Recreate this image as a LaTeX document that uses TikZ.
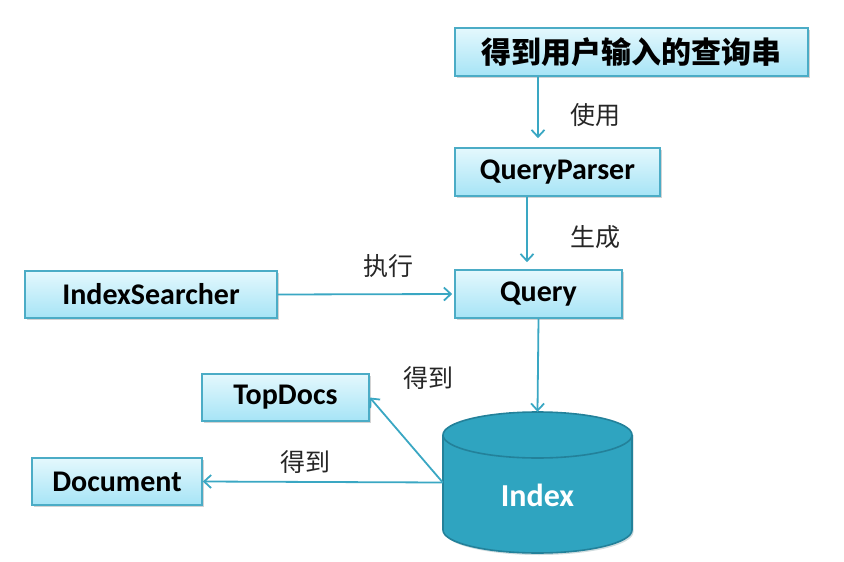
\documentclass[tikz,border=0pt]{standalone}
\usepackage{fontspec}
\setmainfont{Carlito}
\newfontfamily\cjk{Noto Sans CJK SC}
\usetikzlibrary{arrows.meta,shadows}
\definecolor{boxline}{HTML}{4BACC6}
\definecolor{boxtop}{HTML}{E4F8FD}
\definecolor{boxbot}{HTML}{A6E4F6}
\definecolor{arrcol}{HTML}{3AA7C3}
\definecolor{cylfill}{HTML}{2FA4C0}
\definecolor{cylline}{HTML}{23819A}
\tikzset{
  x=1pt,y=-1pt,
  box/.style={draw=boxline,line width=1.6pt,top color=boxtop,bottom color=boxbot,
    font=\fontsize{30}{32}\selectfont\bfseries,inner sep=0pt,
    drop shadow={shadow xshift=1.5pt,shadow yshift=-1.5pt,opacity=0.35,fill=gray}},
  arr/.style={draw=arrcol,line width=1.8pt,-{Straight Barb[length=7pt,width=13pt,line width=1.8pt]}},
  lbl/.style={font=\cjk\fontsize{25}{27}\selectfont,text=black!85,inner sep=0pt},
}
\begin{document}
\begin{tikzpicture}
\useasboundingbox (0,0) rectangle (844,562);
\node[box,minimum width=353pt,minimum height=48pt,font=\cjk\fontsize{30}{32}\selectfont\bfseries] (top) at (631.5,52) {得到用户输入的查询串};
\node[box,minimum width=205pt,minimum height=48pt] (qp) at (557.5,172) {QueryParser};
\node[box,minimum width=167pt,minimum height=48pt] (query) at (538.5,294) {Query};
\node[box,minimum width=252pt,minimum height=47pt] (is) at (151,294.5) {IndexSearcher};
\node[box,minimum width=167pt,minimum height=47pt] (td) at (285.5,397.5) {TopDocs};
\node[box,minimum width=170pt,minimum height=47pt] (doc) at (117,481.5) {Document};
% cylinder
\fill[cylline!60!black,opacity=0.2] (444.5,435) -- (444.5,532) arc[start angle=180,end angle=360,x radius=94.5,y radius=-23] -- (633.5,435) -- cycle;
\draw[draw=cylline,line width=1.6pt,fill=cylfill] (443,435) -- (443,530) arc[start angle=180,end angle=360,x radius=94.5,y radius=-23] -- (632,435);
\draw[draw=cylline,line width=1.6pt,fill=cylfill] (537.5,435) ellipse[x radius=94.5,y radius=23];
\node[minimum width=189pt,minimum height=141pt,inner sep=0pt] (index) at (537.5,482.5) {};
\node[font=\fontsize{32}{34}\selectfont\bfseries,text=white] (indext) at (537.5,495) {Index};
% arrows
\coordinate (c1) at (538,0);
\coordinate (c2) at (527,0);
\draw[arr,shorten >=9pt] (top.south -| c1) -- (qp.north -| c1);
\draw[arr,shorten >=7pt] (qp.south -| c2) -- (query.north -| c2);
\draw[arr,shorten >=2pt] (is.east) -- (query.west);
\draw[arr] (query.south) -- (index.north);
\draw[arr] (index.west) -- (td.east);
\draw[arr] (index.west) -- (doc.east);
% labels
\node[lbl] (l1) at (595,115) {使用};
\node[lbl] (l2) at (595,237) {生成};
\node[lbl] (l3) at (388,266) {执行};
\node[lbl] (l4) at (428,378) {得到};
\node[lbl] (l5) at (305,462) {得到};
\end{tikzpicture}
\end{document}
